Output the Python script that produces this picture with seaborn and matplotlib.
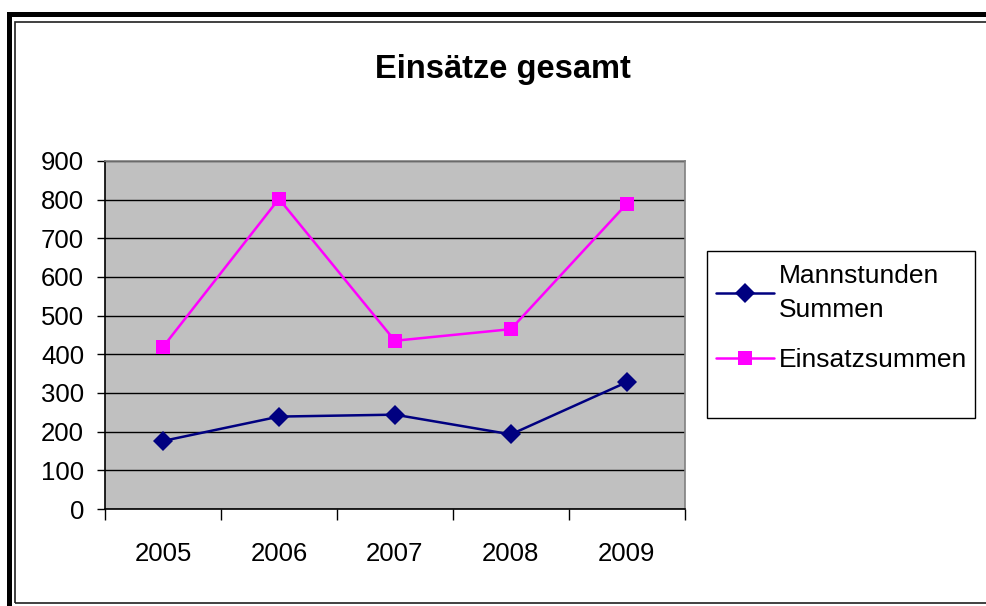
import matplotlib
matplotlib.use("Agg")
import matplotlib.pyplot as plt
import seaborn as sns
import pandas as pd
from matplotlib.patches import Rectangle

years = ["2005", "2006", "2007", "2008", "2009"]
mannstunden = [176, 239, 244, 193, 328]
einsaetze = [419, 802, 435, 465, 789]
series_names = ["Mannstunden\nSummen", "Einsatzsummen"]
y_ticks = [0, 100, 200, 300, 400, 500, 600, 700, 800, 900]

df = pd.DataFrame({
    "pos": list(range(len(years))) * 2,
    "value": mannstunden + einsaetze,
    "series": [series_names[0]] * len(years) + [series_names[1]] * len(years),
})

sns.set_style("white")
plt.rcParams["font.family"] = ["Liberation Sans", "DejaVu Sans"]
plt.rcParams["text.color"] = "black"
plt.rcParams["xtick.color"] = "black"
plt.rcParams["ytick.color"] = "black"

fig = plt.figure(figsize=(9.86, 6.06), dpi=100)
ax = fig.add_axes([0.1065, 0.160, 0.588, 0.5745])
ax.set_facecolor("#C0C0C0")

sns.lineplot(data=df, x="pos", y="value", hue="series", style="series",
             palette=["#000080", "#FF00FF"], markers=["D", "s"], dashes=False,
             markersize=10, markeredgewidth=0, linewidth=1.8, ax=ax, legend=True)

ax.set_ylim(0, 900)
ax.set_xlim(-0.5, len(years) - 0.5)
ax.set_yticks(y_ticks)
ax.yaxis.grid(True, color="black", linewidth=1.0)
ax.set_axisbelow(True)
ax.set_xticks([i - 0.5 for i in range(len(years) + 1)])
ax.set_xticklabels([])
ax.set_xticks(range(len(years)), minor=True)
ax.set_xticklabels(years, minor=True, fontsize=18.5)
ax.tick_params(axis="x", which="major", direction="out", length=8, width=1, color="black", bottom=True)
ax.tick_params(axis="x", which="minor", length=0, pad=24, bottom=True)
ax.tick_params(axis="y", direction="out", length=6, width=1, color="black", left=True, labelsize=18.5, pad=9)
ax.set_xlabel("")
ax.set_ylabel("")
for side in ["top", "right"]:
    ax.spines[side].set_color("#808080")
    ax.spines[side].set_linewidth(1.2)
for side in ["left", "bottom"]:
    ax.spines[side].set_color("black")
    ax.spines[side].set_linewidth(1.2)

handles, labels = ax.get_legend_handles_labels()
ax.get_legend().remove()
fig.patches.append(Rectangle((0.717, 0.310), 0.272, 0.2756, transform=fig.transFigure,
                             facecolor="white", edgecolor="black", linewidth=1))
leg = fig.legend(handles, labels, loc="upper left", bbox_to_anchor=(0.718, 0.578),
                 frameon=False, fontsize=19, handlelength=2.2, handletextpad=0.2,
                 labelspacing=1.0, borderaxespad=0, borderpad=0.3)
for t in leg.get_texts():
    t.set_linespacing(1.55)

fig.text(0.51, 0.886, "Einsätze gesamt", ha="center", va="center",
         fontsize=23.5, fontweight="bold")

# outer chart frame (runs past the right and bottom edges)
fig.patches.append(Rectangle((0.0096, -0.5), 2, 0.9777 + 0.5, transform=fig.transFigure,
                             facecolor="none", edgecolor="black", linewidth=3.6))
fig.patches.append(Rectangle((0.0157, 0.005), 2, 0.9645 - 0.005, transform=fig.transFigure,
                             facecolor="none", edgecolor="#202020", linewidth=1.2))

fig.savefig("out.png", dpi=100)
